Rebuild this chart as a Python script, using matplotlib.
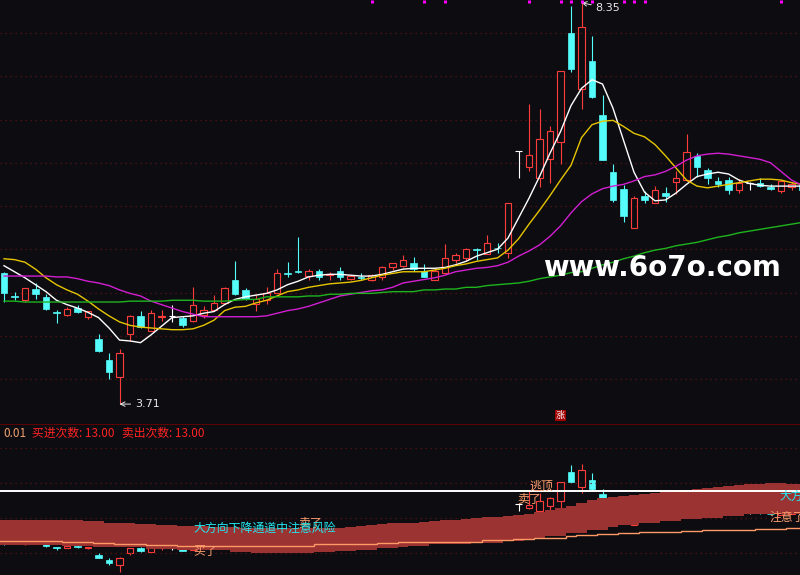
import numpy as np
import matplotlib
matplotlib.use("Agg")
import matplotlib.pyplot as plt
from matplotlib.patches import Rectangle
import matplotlib.transforms as mtrans

plt.rcParams['font.family'] = ['Noto Sans CJK SC', 'DejaVu Sans']

# ---- daily candles (price) ----
open_ = [5.23, 4.96, 4.91, 5.04, 4.95, 4.77, 4.74, 4.82, 4.72, 4.46,
         4.22, 4.02, 4.52, 4.73, 4.56, 4.72, 4.73, 4.70, 4.67, 4.74,
         4.80, 4.88, 5.14, 5.03, 4.87, 4.91, 5.00, 5.23, 5.25, 5.19,
         5.25, 5.20, 5.25, 5.16, 5.18, 5.14, 5.18, 5.29, 5.31, 5.34,
         5.25, 5.15, 5.22, 5.37, 5.40, 5.50, 5.45, 5.52, 5.46, 6.64,
         6.45, 6.32, 6.54, 6.74, 8.00, 7.35, 7.68, 7.05, 6.39, 6.20,
         5.75, 6.11, 6.04, 6.15, 6.28, 6.30, 6.58, 6.42, 6.29, 6.30,
         6.18, 6.27, 6.27, 6.22, 6.17, 6.22, 6.24]
high = [5.24, 5.01, 5.05, 5.11, 4.98, 4.80, 4.83, 4.86, 4.79, 4.52,
        4.30, 4.35, 4.74, 4.79, 4.80, 4.80, 4.86, 4.73, 5.06, 4.84,
        4.97, 5.06, 5.36, 5.05, 4.97, 5.06, 5.27, 5.35, 5.64, 5.27,
        5.27, 5.24, 5.29, 5.20, 5.23, 5.21, 5.31, 5.34, 5.43, 5.41,
        5.33, 5.27, 5.56, 5.46, 5.51, 5.51, 5.67, 5.57, 6.04, 6.64,
        7.18, 7.12, 6.92, 7.56, 8.31, 8.35, 7.97, 7.28, 6.49, 6.24,
        6.12, 6.17, 6.23, 6.22, 6.41, 6.83, 6.61, 6.44, 6.33, 6.33,
        6.31, 6.28, 6.32, 6.25, 6.30, 6.28, 6.26]
low = [4.89, 4.91, 4.89, 4.93, 4.80, 4.65, 4.73, 4.76, 4.69, 4.31,
       4.00, 3.71, 4.44, 4.59, 4.55, 4.67, 4.66, 4.60, 4.66, 4.71,
       4.79, 4.87, 4.97, 4.91, 4.79, 4.87, 4.99, 5.18, 5.23, 5.14,
       5.15, 5.14, 5.14, 5.14, 5.14, 5.13, 5.15, 5.26, 5.30, 5.25,
       5.18, 5.14, 5.21, 5.34, 5.36, 5.38, 5.44, 5.46, 5.40, 6.32,
       6.40, 6.22, 6.27, 6.48, 7.55, 7.12, 7.25, 6.53, 6.05, 5.81,
       5.75, 6.04, 6.03, 6.05, 6.14, 6.29, 6.34, 6.26, 6.22, 6.14,
       6.15, 6.18, 6.22, 6.18, 6.15, 6.19, 6.16]
close = [4.99, 4.95, 5.05, 4.98, 4.81, 4.76, 4.81, 4.78, 4.79, 4.32,
         4.08, 4.30, 4.73, 4.60, 4.76, 4.73, 4.73, 4.63, 4.85, 4.80,
         4.88, 5.05, 4.98, 4.92, 4.92, 5.00, 5.22, 5.21, 5.24, 5.25,
         5.18, 5.21, 5.18, 5.19, 5.17, 5.20, 5.29, 5.34, 5.38, 5.27,
         5.18, 5.25, 5.40, 5.43, 5.50, 5.49, 5.57, 5.51, 6.04, 6.64,
         6.59, 6.77, 6.87, 7.56, 7.58, 8.07, 7.26, 6.53, 6.07, 5.88,
         6.09, 6.07, 6.19, 6.11, 6.32, 6.63, 6.45, 6.32, 6.25, 6.18,
         6.27, 6.27, 6.23, 6.20, 6.29, 6.25, 6.18]

# ---- moving averages ----
ma5 = [5.31, 5.24, 5.17, 5.09, 5.01, 4.91, 4.86, 4.82, 4.77, 4.71,
       4.59, 4.45, 4.44, 4.42, 4.51, 4.61, 4.71, 4.72, 4.73, 4.76,
       4.78, 4.86, 4.92, 4.95, 4.97, 4.99, 5.03, 5.09, 5.13, 5.18,
       5.20, 5.21, 5.21, 5.20, 5.19, 5.19, 5.21, 5.24, 5.27, 5.28,
       5.28, 5.28, 5.29, 5.32, 5.36, 5.42, 5.46, 5.50, 5.63, 5.86,
       6.09, 6.34, 6.61, 6.86, 7.16, 7.36, 7.46, 7.41, 7.13, 6.76,
       6.39, 6.16, 6.06, 6.07, 6.15, 6.25, 6.34, 6.37, 6.39, 6.37,
       6.30, 6.26, 6.24, 6.23, 6.23, 6.23, 6.23]
ma10 = [5.39, 5.38, 5.35, 5.27, 5.17, 5.09, 5.03, 4.98, 4.90, 4.81,
        4.73, 4.66, 4.62, 4.60, 4.59, 4.58, 4.57, 4.57, 4.58, 4.62,
        4.68, 4.79, 4.83, 4.84, 4.88, 4.91, 4.96, 5.01, 5.03, 5.06,
        5.08, 5.10, 5.11, 5.12, 5.14, 5.17, 5.20, 5.22, 5.24, 5.24,
        5.24, 5.26, 5.28, 5.31, 5.33, 5.36, 5.38, 5.40, 5.49, 5.62,
        5.79, 5.95, 6.12, 6.30, 6.47, 6.79, 6.94, 6.98, 6.99, 6.92,
        6.84, 6.80, 6.71, 6.58, 6.44, 6.30, 6.23, 6.21, 6.23, 6.25,
        6.27, 6.29, 6.31, 6.31, 6.30, 6.27, 6.25]
ma20 = [5.19, 5.19, 5.19, 5.19, 5.19, 5.18, 5.18, 5.16, 5.13, 5.11,
        5.08, 5.03, 4.99, 4.96, 4.90, 4.86, 4.82, 4.78, 4.75, 4.72,
        4.72, 4.72, 4.72, 4.72, 4.72, 4.73, 4.76, 4.79, 4.81, 4.84,
        4.88, 4.92, 4.96, 4.98, 5.00, 5.02, 5.03, 5.06, 5.11, 5.13,
        5.15, 5.17, 5.20, 5.24, 5.26, 5.28, 5.29, 5.31, 5.35, 5.42,
        5.48, 5.55, 5.65, 5.77, 5.92, 6.05, 6.14, 6.20, 6.23, 6.25,
        6.29, 6.34, 6.36, 6.40, 6.46, 6.53, 6.58, 6.60, 6.61, 6.60,
        6.58, 6.56, 6.54, 6.50, 6.40, 6.30, 6.24]
ma60 = [4.90, 4.90, 4.89, 4.89, 4.89, 4.89, 4.89, 4.89, 4.89, 4.89,
        4.89, 4.89, 4.90, 4.90, 4.90, 4.90, 4.91, 4.91, 4.91, 4.90,
        4.90, 4.90, 4.91, 4.92, 4.92, 4.95, 4.95, 4.95, 4.95, 4.96,
        4.96, 4.98, 4.98, 4.99, 4.99, 4.99, 5.00, 5.01, 5.01, 5.01,
        5.03, 5.03, 5.04, 5.04, 5.06, 5.06, 5.08, 5.09, 5.10, 5.11,
        5.13, 5.16, 5.18, 5.20, 5.23, 5.24, 5.28, 5.32, 5.35, 5.39,
        5.42, 5.46, 5.49, 5.51, 5.54, 5.56, 5.58, 5.61, 5.64, 5.66,
        5.69, 5.71, 5.73, 5.75, 5.77, 5.79, 5.81]

# signal flags along the top edge
flag_days = [35, 40, 42, 50, 53, 54, 55, 56, 59, 60, 61, 74]

# ---- lower indicator (band + line), indicator units ----
band_top = [55, 55, 55, 55, 55, 55, 55, 55, 54, 54,
            52.5, 51.7, 51.7, 51, 51, 50.3, 50.3, 49.3, 49.3, 49,
            48.5, 48, 48, 47.5, 47.5, 47, 47, 47, 46.7, 46.7,
            46.7, 46.7, 46.7, 47.7, 49, 50, 51.3, 51.7, 51.7, 52.5,
            53.3, 54, 54.7, 55.5, 56, 57, 57.7, 58.5, 59.3, 60.5,
            61.3, 63, 65, 67, 69, 72, 75, 76.7, 78, 79,
            80, 80.7, 81.7, 82.7, 84, 85.5, 86.5, 87.5, 88.3, 89,
            90, 90.7, 91, 91.7, 91.7, 91.3, 91]
band_bot = [30, 30, 30, 30, 30, 30, 29.3, 29.3, 29.3, 28.3,
            28.3, 27.7, 27.7, 27.7, 26, 26, 26, 25, 25, 25,
            25, 25, 22.7, 22.7, 21.7, 21.7, 21.7, 21.7, 21.7, 21.7,
            23.3, 23.3, 24.3, 24.3, 25.3, 25.3, 27.3, 27.3, 28.3, 29.3,
            29.3, 31, 31, 31, 31, 32.3, 32.3, 32.3, 34, 34,
            36, 36, 39, 39, 41.7, 41.7, 45, 45, 47.7, 50,
            50, 51.7, 51.7, 54, 54, 55.7, 55.7, 57.3, 57.3, 59.3,
            59.3, 60.7, 60.7, 60.7, 60.7, 60.7, 60.7]
signal_line = [34, 34, 34, 34, 34, 34, 33, 33, 33, 31.7,
               31.7, 31, 31, 31, 30, 30, 30, 29.3, 29.3, 29.3,
               29.3, 29.3, 29.3, 29.3, 29.3, 29.3, 29.3, 29.3, 29.3, 29.3,
               31, 31, 31, 31, 31, 31, 32, 32, 32.7, 32.7,
               32.7, 33.3, 33.3, 33.3, 33.3, 33.3, 34.7, 34.7, 34.7, 35.7,
               35.7, 36.7, 36.7, 37.3, 38.7, 40, 40, 40.7, 40.7, 41.7,
               41.7, 42.7, 42.7, 42.7, 42.7, 43.7, 43.7, 44.7, 44.7, 44.7,
               44.7, 44.7, 45.7, 45.7, 45.7, 46.7, 46.7]
ref_level = 84.3
buy_count = 13.00
sell_count = 13.00

BG = '#0d0d11'
RED = '#ff3c3c'
CYAN = '#54fcfc'
GRID = '#5a1414'

n = len(close)
idx = np.arange(n)


def draw_candles(ax, o, h, l, c, w=0.66, lw=0.8):
    for i in range(len(c)):
        top, bot = max(o[i], c[i]), min(o[i], c[i])
        if c[i] > o[i]:
            ax.vlines(i, top, h[i], color=RED, lw=lw, zorder=2)
            ax.vlines(i, l[i], bot, color=RED, lw=lw, zorder=2)
            ax.add_patch(Rectangle((i - w / 2, bot), w, top - bot, facecolor='none',
                                   edgecolor=RED, lw=lw, zorder=2))
        else:
            col = CYAN if c[i] < o[i] else 'white'
            ax.vlines(i, l[i], h[i], color=col, lw=lw, zorder=2)
            if top > bot:
                ax.add_patch(Rectangle((i - w / 2, bot), w, top - bot, facecolor=col,
                                       edgecolor=col, lw=0.5, zorder=2))
            else:
                ax.hlines(top, i - w / 2, i + w / 2, color=col, lw=lw, zorder=2)


fig = plt.figure(figsize=(8, 5.75), dpi=100, facecolor=BG)
ax = fig.add_axes([0, 151 / 575, 1, 424 / 575], facecolor=BG)
axl = fig.add_axes([0, 0, 1, 151 / 575], facecolor=BG)
axi = axl.twinx()

xlim = (-4 / 10.5, 796 / 10.5)

# ---- main price panel ----
for p in np.arange(4.0, 8.01, 0.5):
    ax.axhline(p, color=GRID, lw=0.9, ls=(0, (1, 3)), zorder=0)
draw_candles(ax, open_, high, low, close)
ax.plot(idx, ma5, color='white', lw=1.0, zorder=3)
ax.plot(idx, ma10, color='#e6c400', lw=1.0, zorder=3)
ax.plot(idx, ma20, color='#d21ed2', lw=1.0, zorder=3)
ax.plot(idx, ma60, color='#1eb41e', lw=1.0, zorder=3)

trans = mtrans.blended_transform_factory(ax.transData, ax.transAxes)
ax.vlines(flag_days, 0.993, 1.0, color='#ff00ff', lw=2.2, transform=trans, zorder=4)

imax = int(np.argmax(high))
imin = int(np.argmin(low))
ax.annotate(f"{high[imax]:.2f}", xy=(imax, high[imax]), xytext=(10, -4),
            textcoords='offset points', color='#e8e8e8', fontsize=8,
            ha='left', va='center', family='DejaVu Sans',
            arrowprops=dict(arrowstyle='->', color='#e8e8e8', lw=0.7,
                            shrinkA=1, shrinkB=0))
ax.annotate(f"{low[imin]:.2f}", xy=(imin, low[imin]), xytext=(11, 0),
            textcoords='offset points', color='#e8e8e8', fontsize=8,
            ha='left', va='center', family='DejaVu Sans',
            arrowprops=dict(arrowstyle='->', color='#e8e8e8', lw=0.7,
                            shrinkA=1, shrinkB=0))

ax.text(0.827, (424 - 268) / 424, 'www.6o7o.com', transform=ax.transAxes,
        ha='center', va='center', color='white', fontsize=20,
        fontweight='bold', family='DejaVu Sans', zorder=5)
ax.text(53, 0.021, '涨', transform=trans, ha='center', va='center',
        color='white', fontsize=6.5,
        bbox=dict(boxstyle='square,pad=0.12', fc='#a00000', ec='none'), zorder=5)

ax.set_xlim(*xlim)
ax.set_ylim(3.4798, 8.3815)

# ---- lower indicator panel ----
axl.axhline(10.067, color='#6e0000', lw=1.2)
for g in [22.3, 56.7, 91.7, 126.7]:
    axi.axhline(g, color=GRID, lw=0.9, ls=(0, (1, 3)), zorder=0)
draw_candles(axl, open_, high, low, close)
axl.set_ylim(3.581, 10.067)
axl.set_xlim(*xlim)

edges = np.arange(n + 1) - 0.5
axi.stairs(band_top, edges, baseline=band_bot, fill=True, color='#9b3333', lw=0, zorder=2)
axi.stairs(signal_line, edges, color='#ff9966', lw=1.0, zorder=3)
axi.axhline(ref_level, color='white', lw=1.4, zorder=3)
axi.set_ylim(0, 151)
axi.set_xlim(*xlim)

ORANGE = '#ff9f6e'
labels = [(18, 24, '买了', ORANGE), (28, 51, '卖了', ORANGE),
          (18, 47, '大方向下降通道中注意风险', '#22e8f0'),
          (50, 88.5, '逃顶', ORANGE), (48.9, 76, '卖了', ORANGE),
          (73.9, 79, '大方向上升通道中', '#22e8f0'), (72.95, 57.5, '注意了', ORANGE)]
for x, y, s, col in labels:
    axi.text(x, y, s, color=col, fontsize=8.6, ha='left', va='center',
             zorder=5, clip_on=True)

axi.text(3 / 800, 0.934, '0.01', transform=axi.transAxes, color='#f0a070',
         fontsize=8.5, ha='left', va='center')
axi.text(32 / 800, 0.934, f'买进次数: {buy_count:.2f}', transform=axi.transAxes,
         color='#ff2222', fontsize=8.5, ha='left', va='center')
axi.text(122 / 800, 0.934, f'卖出次数: {sell_count:.2f}', transform=axi.transAxes,
         color='#ff2222', fontsize=8.5, ha='left', va='center')

for a in (ax, axl, axi):
    a.set_xticks([])
    a.set_yticks([])
    for s in a.spines.values():
        s.set_visible(False)

fig.savefig('out.png', dpi=100, facecolor=BG)
